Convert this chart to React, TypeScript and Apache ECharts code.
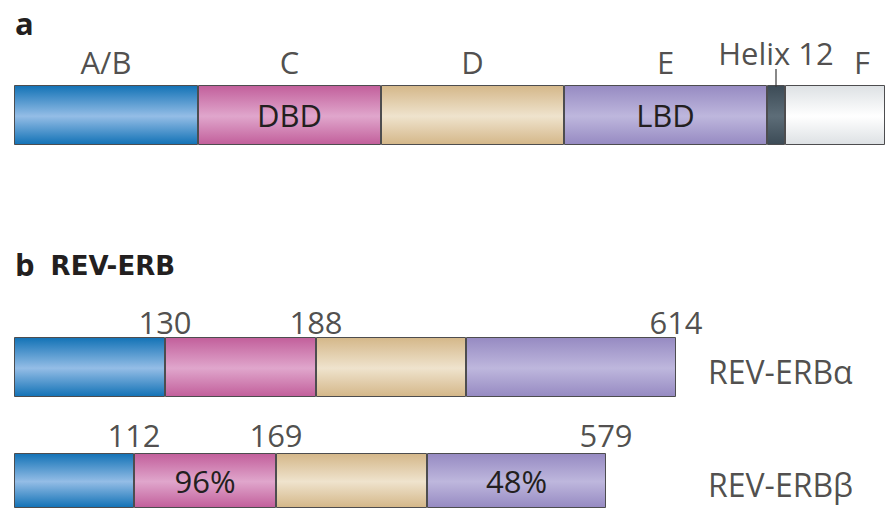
import React, { useEffect, useRef } from "react";
import * as echarts from "echarts";

// ---------- Panel a: generic nuclear receptor domain organisation (schematic lengths) ----------
const domainKeysA = ["AB", "C", "D", "E", "H12", "F"];
const domainTitlesA = ["A/B", "C", "D", "E", "Helix 12", "F"];
const domainLengthsA = [184, 183, 183, 203, 18, 100];
const domainInnerA = ["", "DBD", "", "LBD", "", ""];

// ---------- Panel b: REV-ERB isoforms (schematic lengths) ----------
const revKeys = ["AB", "C", "D", "E"];
const alphaLengths = [151, 151, 150, 210];
const alphaResidues = ["130", "188", "", "614"];
const alphaInner = ["", "", "", ""];
const betaLengths = [120, 142, 151, 179];
const betaResidues = ["112", "169", "", "579"];
const betaInner = ["", "96%", "", "48%"];
const isoformNames = ["REV-ERBα", "REV-ERBβ"];

const panelTitles = ["a", "b", "REV-ERB"];

const PALETTE: Record<string, [string, string]> = {
  AB: ["#1272b6", "#94bde6"],
  C: ["#c25f9b", "#e0a6cc"],
  D: ["#d4b789", "#efe3cd"],
  E: ["#968ac2", "#beb7dd"],
  H12: ["#3c4b56", "#5d6d78"],
  F: ["#dde1e4", "#ffffff"],
};

const TEXT = "#231f20";
const FONT = "Open Sans";
const FS = 31;

function grad(key: string) {
  const [dark, light] = PALETTE[key];
  return new echarts.graphic.LinearGradient(0, 0, 0, 1, [
    { offset: 0, color: dark },
    { offset: 0.52, color: light },
    { offset: 1, color: dark },
  ]);
}

function cum(arr: number[]) {
  const out: number[] = [];
  let s = 0;
  for (const v of arr) {
    s += v;
    out.push(s);
  }
  return out;
}

export default function App() {
  const ref = useRef<HTMLDivElement>(null);

  useEffect(() => {
    if (!ref.current) return;
    const chart = echarts.init(ref.current, undefined, { renderer: "svg" });
    const XMAX = 871;

    const grids = [
      { left: 14, top: 85, width: XMAX, height: 60 },
      { left: 14, top: 337, width: XMAX, height: 60 },
      { left: 14, top: 453, width: XMAX, height: 61 },
    ];
    const xAxes = grids.map((_, i) => ({
      type: "value",
      gridIndex: i,
      min: 0,
      max: XMAX,
      show: false,
    }));
    const yAxes = grids.map((_, i) => ({
      type: "category",
      gridIndex: i,
      data: ["r"],
      show: false,
    }));

    const series: any[] = [];

    const barRow = (
      g: number,
      keys: string[],
      lengths: number[],
      inner: string[]
    ) => {
      keys.forEach((k, i) => {
        series.push({
          type: "bar",
          xAxisIndex: g,
          yAxisIndex: g,
          stack: "row" + g,
          barWidth: "100%",
          data: [lengths[i]],
          itemStyle: {
            color: grad(k),
            borderColor: "#4d4d4f",
            borderWidth: 1,
          },
          label: {
            show: !!inner[i],
            position: "inside",
            formatter: inner[i],
            color: TEXT,
            fontFamily: FONT,
            fontSize: FS,
          },
          silent: true,
        });
      });
    };

    barRow(0, domainKeysA, domainLengthsA, domainInnerA);
    barRow(1, revKeys, alphaLengths, alphaInner);
    barRow(2, revKeys, betaLengths, betaInner);

    // Panel a: domain titles above segments
    const endsA = cum(domainLengthsA);
    const midsA = endsA.map((e, i) => e - domainLengthsA[i] / 2);
    series.push({
      type: "scatter",
      xAxisIndex: 0,
      yAxisIndex: 0,
      symbolSize: 0,
      data: domainTitlesA.map((t, i) => ({
        value: [midsA[i], 0, t],
        label:
          t === "Helix 12"
            ? { distance: 47 }
            : t === "F"
            ? { distance: 38, offset: [27, 0] }
            : { distance: 38 },
      })),
      label: {
        show: true,
        position: "top",
        formatter: (p: any) => p.value[2],
        color: TEXT,
        fontFamily: FONT,
        fontSize: FS,
      },
      silent: true,
    });
    // Helix 12 pointer tick
    const h12 = domainKeysA.indexOf("H12");
    series.push({
      type: "scatter",
      xAxisIndex: 0,
      yAxisIndex: 0,
      symbol: "rect",
      symbolSize: [1.5, 18],
      symbolOffset: [0, -37],
      itemStyle: { color: "#3a3a3a" },
      data: [[midsA[h12], 0]],
      silent: true,
    });

    // Panel b: residue numbers and isoform names
    const rows = [
      { g: 1, lengths: alphaLengths, residues: alphaResidues },
      { g: 2, lengths: betaLengths, residues: betaResidues },
    ];
    const nameX =
      Math.max(...rows.map((r) => r.lengths.reduce((a, b) => a + b, 0))) + 32;
    rows.forEach((r, ri) => {
      const ends = cum(r.lengths);
      series.push({
        type: "scatter",
        xAxisIndex: r.g,
        yAxisIndex: r.g,
        symbolSize: 0,
        data: r.residues
          .map((t, i) => [ends[i], 0, t])
          .filter((d) => d[2] !== ""),
        label: {
          show: true,
          position: "top",
          distance: 30,
          formatter: (p: any) => p.value[2],
          color: TEXT,
          fontFamily: FONT,
          fontSize: FS,
        },
        silent: true,
      });
      series.push({
        type: "scatter",
        xAxisIndex: r.g,
        yAxisIndex: r.g,
        symbolSize: 0,
        data: [[nameX, 0, isoformNames[ri]]],
        label: {
          show: true,
          position: "right",
          distance: 0,
          offset: [0, 4],
          formatter: (p: any) => p.value[2],
          color: TEXT,
          fontFamily: FONT,
          fontSize: 32,
        },
        silent: true,
      });
    });

    chart.setOption({
      animation: false,
      backgroundColor: "#ffffff",
      textStyle: { fontFamily: FONT },
      title: [
        {
          text: panelTitles[0],
          left: 10,
          top: 2,
          textStyle: {
            fontFamily: FONT,
            fontWeight: "bold",
            fontSize: 31,
            color: TEXT,
          },
        },
        {
          text: `{b|${panelTitles[1]}}{s| }{t|${panelTitles[2]}}`,
          left: 10,
          top: 243,
          textStyle: {
            rich: {
              b: {
                fontFamily: FONT,
                fontWeight: "bold",
                fontSize: 31,
                color: TEXT,
              },
              s: { fontSize: 16, width: 16 },
              t: {
                fontFamily: "DejaVu Sans",
                fontWeight: "bold",
                fontSize: 26,
                color: TEXT,
                verticalAlign: "bottom",
              },
            },
          },
        },
      ],
      grid: grids,
      xAxis: xAxes,
      yAxis: yAxes,
      series,
    });

    return () => chart.dispose();
  }, []);

  return (
    <div
      ref={ref}
      style={{
        position: "absolute",
        left: 0,
        top: 0,
        width: 885,
        height: 508,
        overflow: "hidden",
      }}
    />
  );
}
